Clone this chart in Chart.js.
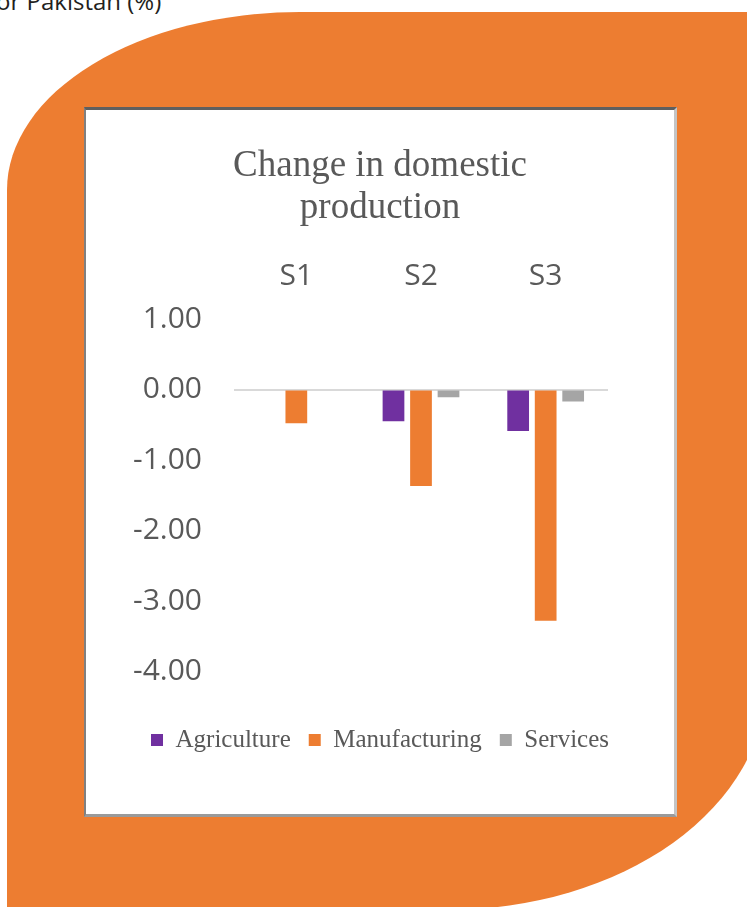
<!DOCTYPE html>
<html>
<head>
<meta charset="utf-8">
<script src="https://cdn.jsdelivr.net/npm/chart.js@4.4.0/dist/chart.umd.min.js"></script>
<style>
  html, body { margin: 0; padding: 0; width: 747px; height: 907px; overflow: hidden; background: #fff; }
  .caption { position: absolute; left: -12px; top: -11px; font: 24px/24px "Open Sans", sans-serif; color: #231f20; white-space: nowrap; }
  .blob {
    position: absolute; left: 7px; top: 12px; width: 760px; height: 898px;
    background: #ED7D31;
    border-top-left-radius: 293px 178px;
    border-bottom-right-radius: 320px 230px;
  }
  .frame {
    position: absolute; left: 84px; top: 107px; width: 593px; height: 710px;
    box-sizing: border-box; background: #fff;
    border-style: solid; border-width: 3px 3px 3px 2px;
    border-color: #5f5f5f #c4c4c4 #9a9a9a #808080;
  }
  canvas { display: block; }
</style>
</head>
<body>
<div class="caption">for Pakistan (%)</div>
<div class="blob"></div>
<div class="frame"><canvas id="chart" width="588" height="704"></canvas></div>
<script>
// data
const SCENARIOS = ['S1', 'S2', 'S3'];
const AGRICULTURE = [0, -0.45, -0.59];
const MANUFACTURING = [-0.48, -1.37, -3.28];
const SERVICES = [0, -0.11, -0.17];
const Y_MIN = -4, Y_MAX = 1, Y_STEP = 1;

const TEXT_GREY = '#595959';
const SANS = '"Open Sans", "Noto Sans", sans-serif';
const SERIF = '"Liberation Serif", "DejaVu Serif", serif';

const bar = (label, data, color) => ({
    label, data,
    backgroundColor: color,
    borderWidth: 0,
    xAxisID: 'x', yAxisID: 'y',
    categoryPercentage: 0.662,
    barPercentage: 0.79
});

new Chart(document.getElementById('chart'), {
    type: 'bar',
    data: {
        labels: SCENARIOS,
        datasets: [
            bar('Agriculture', AGRICULTURE, '#7030A0'),
            bar('Manufacturing', MANUFACTURING, '#ED7D31'),
            bar('Services', SERVICES, '#A5A5A5')
        ]
    },
    options: {
        responsive: false,
        animation: false,
        layout: { padding: { left: 0, right: 0, top: 0, bottom: 51.5 } },
        plugins: {
            title: {
                display: true,
                text: ['Change in domestic', 'production'],
                color: TEXT_GREY,
                font: { family: SERIF, size: 37, weight: 'normal', lineHeight: 42 / 37 },
                padding: { top: 35, bottom: 0 }
            },
            legend: {
                position: 'bottom',
                labels: {
                    color: TEXT_GREY,
                    font: { family: SERIF, size: 25 },
                    boxWidth: 12, boxHeight: 12,
                    padding: 18
                }
            },
            tooltip: { enabled: false }
        },
        scales: {
            x: {
                position: 'top',
                grid: { display: false },
                border: { display: false },
                ticks: { color: TEXT_GREY, font: { family: SANS, size: 30 }, padding: 17 },
                afterFit: s => { s.height = 90; }
            },
            y: {
                min: Y_MIN, max: Y_MAX,
                border: { display: false },
                grid: {
                    drawTicks: false,
                    lineWidth: 2,
                    color: c => (c.tick && c.tick.value === 0) ? '#d9d9d9' : 'rgba(0,0,0,0)'
                },
                ticks: {
                    stepSize: Y_STEP,
                    color: TEXT_GREY,
                    font: { family: SANS, size: 30 },
                    padding: 32,
                    callback: v => Number(v).toFixed(2)
                },
                afterFit: s => { s.width = 148; }
            },
            xSpacer: {
                type: 'linear', position: 'bottom', display: true,
                grid: { display: false }, border: { display: false }, ticks: { display: false },
                afterFit: s => { s.height = 38; }
            },
            ySpacer: {
                type: 'linear', position: 'right', display: true,
                grid: { display: false }, border: { display: false }, ticks: { display: false },
                afterFit: s => { s.width = 66; }
            }
        }
    }
});
</script>
</body>
</html>
